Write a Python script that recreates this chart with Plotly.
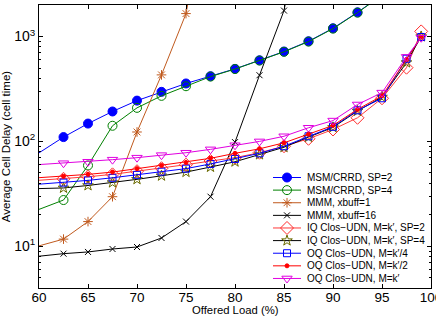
import plotly.graph_objects as go

# ---------------- data ----------------
x_msm = [57.5, 62.5, 65, 67.5, 70, 72.5, 75, 77.5, 80, 82.5, 85, 87.5, 90, 92.5, 95]
msm_sp2 = [55, 110, 148, 193, 245, 297, 357, 419, 492, 594, 720, 902, 1200, 1703, 2480]
msm_sp4 = [18.3, 27.6, 59, 141, 209, 272, 336, 415, 490, 590, 715, 895, 1190, 1690, 2480]

x_mmm1 = [57.5, 62.5, 65, 67.5, 70, 72.5, 75, 77.5]
mmm_x1 = [8.7, 11.7, 17.2, 29.7, 123, 431, 1656, 28000]

x_mmm16 = [57.5, 62.5, 65, 67.5, 70, 72.5, 75, 77.5, 80, 82.5, 85, 87.5]
mmm_x16 = [7.6, 8.5, 8.83, 9.42, 9.84, 12.0, 17.2, 29.7, 98.5, 428, 1769, 30000]

x_clos = [57.5, 62.5, 65, 67.5, 70, 72.5, 75, 77.5, 80, 82.5, 85, 87.5, 90, 92.5, 95, 97.5, 99]
iq_sp2 = [41, 44, 46, 48.5, 52, 55.5, 60, 65, 70, 78, 90, 106, 130, 168, 258, 505, 1120]
iq_sp4 = [35, 36, 38, 40.5, 43.5, 47, 51, 57, 64, 75, 88, 110, 136, 195, 265, 565, 1000]
oq_k4 = [37.5, 40.5, 42.5, 45, 48, 51.5, 55, 61, 68, 77, 90, 112, 138, 198, 258, 615, 990]
oq_k2 = [43.5, 46.5, 48.5, 51, 55, 59, 63, 69, 77, 85, 97, 117, 142, 202, 272, 605, 990]
oq_k1 = [58, 62, 64, 67, 70, 74, 78, 84, 92, 100, 112, 135, 158, 225, 292, 640, 975]

names = ["MSM/CRRD, SP=2", "MSM/CRRD, SP=4", "MMM, xbuff=1", "MMM, xbuff=16",
         "IQ Clos\u2212UDN, M=k\u2032, SP=2", "IQ Clos\u2212UDN, M=k\u2032, SP=4",
         "OQ Clos\u2212UDN, M=k\u2032/4", "OQ Clos\u2212UDN, M=k\u2032/2", "OQ Clos\u2212UDN, M=k\u2032"]

x_ticks = [60, 65, 70, 75, 80, 85, 90, 95, 100]
y_ticks = [10, 100, 1000]
y_ticktext = ["10<sup>1</sup>", "10<sup>2</sup>", "10<sup>3</sup>"]
x_title = "Offered Load (%)"
y_title = "Average Cell Delay (cell time)"

# ---------------- styles ----------------
styles = [
    dict(lc="#0000FF", sym="circle", size=9, mc="#0000FF"),
    dict(lc="#008000", sym="circle-open", size=9, mc="#008000"),
    dict(lc="#C05A1E", sym="asterisk-open", size=8, mc="#C05A1E"),
    dict(lc="#000000", sym="x-thin-open", size=6, mc="#000000"),
    dict(lc="#FF3A3A", sym="diamond-open", size=10, mc="#FF2A2A"),
    dict(lc="#000000", sym="star-open", size=8, mc="#6B6B00"),
    dict(lc="#0000FF", sym="square-open", size=7, mc="#0000FF"),
    dict(lc="#FF0000", sym="circle", size=4, mc="#FF0000"),
    dict(lc="#E000E0", sym="triangle-down-open", size=9, mc="#E000E0"),
]
series = [(x_msm, msm_sp2), (x_msm, msm_sp4), (x_mmm1, mmm_x1), (x_mmm16, mmm_x16),
          (x_clos, iq_sp2), (x_clos, iq_sp4), (x_clos, oq_k4), (x_clos, oq_k2), (x_clos, oq_k1)]

fig = go.Figure()
for (xs, ys), nm, st in zip(series, names, styles):
    fig.add_trace(go.Scatter(
        x=xs, y=ys, name=nm, mode="lines+markers",
        line=dict(color=st["lc"], width=1),
        marker=dict(symbol=st["sym"], size=st["size"], color=st["mc"],
                    line=dict(color=st["mc"], width=1)),
        showlegend=False))

# ---------------- manual compact legend (hidden helper axes) ----------------
W, H = 436, 316
ML, MR, MT, MB = 39, 5, 5, 28
LEG_X0 = 273          # px, left of sample line
LEG_TOP = 177.5       # px, centre of first row
LEG_STEP = 12.62      # px between rows
SAMPLE_LEN = 28
plot_w = W - ML - MR
plot_h = H - MT - MB
dom0 = (LEG_X0 - ML) / plot_w
for i, (nm, st) in enumerate(zip(names, styles)):
    yy = LEG_TOP + LEG_STEP * i
    fig.add_trace(go.Scatter(
        x=[0, SAMPLE_LEN], y=[yy, yy], mode="lines",
        line=dict(color=st["lc"], width=1), xaxis="x2", yaxis="y2",
        showlegend=False, hoverinfo="skip"))
    fig.add_trace(go.Scatter(
        x=[SAMPLE_LEN / 2], y=[yy], mode="markers",
        marker=dict(symbol=st["sym"], size=st["size"], color=st["mc"],
                    line=dict(color=st["mc"], width=1)),
        xaxis="x2", yaxis="y2", showlegend=False, hoverinfo="skip"))
    fig.add_annotation(x=SAMPLE_LEN + 4, y=yy, xref="x2", yref="y2", text=nm,
                       showarrow=False, xanchor="left", yanchor="middle",
                       font=dict(size=10, color="#000000"))

# x-axis title as annotation placed just under the tick labels
XT_CENTER_PX = 310
fig.add_annotation(x=0.5, y=-(XT_CENTER_PX - (H - MB)) / plot_h, xref="paper", yref="paper",
                   text=x_title, showarrow=False, xanchor="center", yanchor="middle",
                   font=dict(size=11.3, color="#000000"))

font_family = "Liberation Sans, Arial, Helvetica, sans-serif"
minor_vals = [m * 10 ** e for e in range(0, 4) for m in range(2, 10)]

fig.update_layout(
    width=W, height=H,
    margin=dict(l=ML, r=MR, t=MT, b=MB, autoexpand=False),
    paper_bgcolor="white", plot_bgcolor="rgba(0,0,0,0)",
    font=dict(family=font_family, color="#000000", size=13),
    showlegend=False,
    xaxis=dict(range=[60, 100], tickvals=x_ticks, ticktext=[str(v) for v in x_ticks],
               ticks="inside", ticklen=4, tickcolor="#000000",
               showline=True, linecolor="#000000", linewidth=1, mirror="allticks",
               showgrid=False, zeroline=False, automargin=False,
               ticklabeloverflow="allow", ticklabelstandoff=-3,
               tickfont=dict(size=13.5)),
    yaxis=dict(type="log", range=[0.60206, 3.30103], tickvals=y_ticks, ticktext=y_ticktext,
               ticks="inside", ticklen=4, tickcolor="#000000",
               showline=True, linecolor="#000000", linewidth=1, mirror="allticks",
               showgrid=False, zeroline=False, automargin=False,
               ticklabeloverflow="allow",
               minor=dict(tickvals=minor_vals, ticks="inside", ticklen=2, tickcolor="#000000"),
               title=dict(text=y_title, font=dict(size=11.5), standoff=4),
               tickfont=dict(size=14)),
    xaxis2=dict(domain=[dom0, 1], range=[0, W - MR - LEG_X0], anchor="y2", visible=False,
                fixedrange=True),
    yaxis2=dict(domain=[0, 1], range=[H - MB, MT], anchor="x2", visible=False,
                fixedrange=True),
)

fig.write_html("out.html")
